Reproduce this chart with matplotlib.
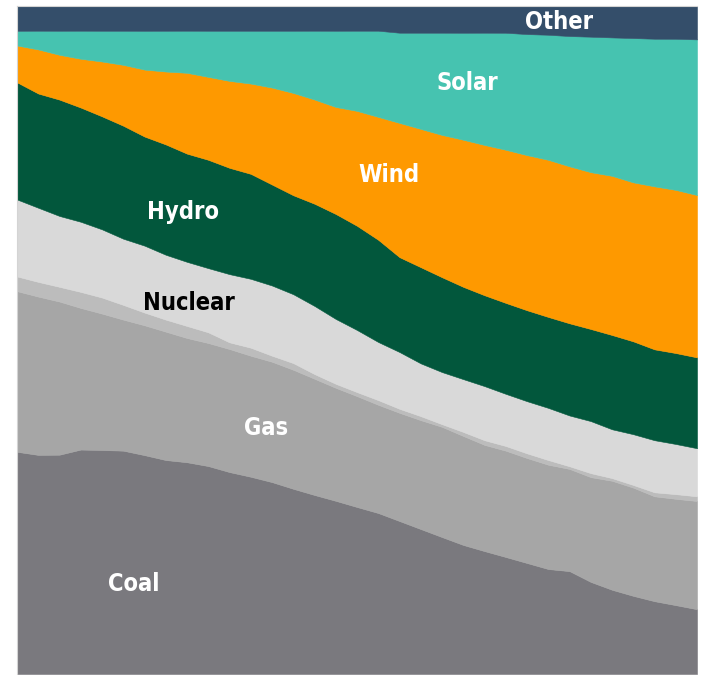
import numpy as np
import matplotlib.pyplot as plt

# Andel av kraftproduksjon (%), ett punkt per år
years = list(range(1990, 2023))

coal = [33.2, 32.8, 32.8, 33.6, 33.5, 33.4, 32.7, 32.0, 31.7, 31.1, 30.2,
        29.5, 28.7, 27.7, 26.8, 25.9, 25.0, 24.1, 22.9, 21.7, 20.5, 19.3,
        18.4, 17.5, 16.6, 15.7, 15.4, 13.8, 12.6, 11.7, 10.9, 10.3, 9.7]
gas = [24.0, 23.7, 22.9, 21.2, 20.4, 19.6, 19.4, 19.2, 18.6, 18.4, 18.4,
       18.1, 18.0, 17.8, 17.4, 16.9, 16.6, 16.2, 16.2, 16.3, 16.5, 16.3,
       15.9, 15.9, 15.7, 15.6, 15.3, 15.7, 16.3, 16.2, 15.7, 15.9, 16.2]
oil = [2.2, 2.2, 2.2, 2.4, 2.4, 2.2, 1.9, 1.8, 1.8, 1.6, 1.0,
       1.2, 0.9, 1.0, 0.7, 0.6, 0.6, 0.7, 0.6, 0.6, 0.4, 0.6,
       0.7, 0.7, 0.7, 0.7, 0.4, 0.6, 0.4, 0.4, 0.6, 0.7, 0.7]
nuclear = [11.5, 11.1, 10.6, 10.5, 10.2, 9.9, 10.0, 9.7, 9.6, 9.6, 10.2,
           10.3, 10.5, 10.3, 10.2, 9.7, 9.3, 8.7, 8.5, 7.9, 7.8, 7.9,
           8.1, 7.8, 7.8, 7.8, 7.6, 7.8, 7.3, 7.6, 7.8, 7.5, 7.2]
hydro = [17.5, 17.1, 17.4, 17.1, 16.9, 16.9, 16.3, 16.5, 16.2, 16.2, 15.9,
         15.7, 15.1, 14.8, 15.3, 15.7, 15.6, 15.3, 14.2, 14.4, 14.2, 13.8,
         13.6, 13.6, 13.6, 13.6, 13.8, 13.8, 14.1, 13.9, 13.6, 13.6, 13.6]
wind = [5.5, 6.6, 6.7, 7.3, 8.2, 9.1, 10.0, 10.9, 12.1, 12.4, 13.0,
        13.5, 14.5, 15.3, 15.6, 16.0, 17.2, 18.4, 20.1, 20.7, 21.3, 22.0,
        22.5, 22.9, 23.2, 23.5, 23.5, 23.5, 23.8, 23.8, 24.4, 24.4, 24.3]
solar = [2.2, 2.8, 3.6, 4.2, 4.6, 5.1, 5.8, 6.1, 6.3, 6.9, 7.5,
         7.9, 8.5, 9.3, 10.3, 11.4, 12.0, 12.9, 13.5, 14.4, 15.3, 16.0,
         16.8, 17.5, 18.1, 18.7, 19.5, 20.3, 20.7, 21.6, 22.1, 22.6, 23.3]
other = [3.7, 3.7, 3.7, 3.7, 3.7, 3.7, 3.7, 3.7, 3.7, 3.7, 3.7,
         3.7, 3.7, 3.7, 3.7, 3.7, 3.7, 3.7, 4.0, 4.0, 4.0, 4.0,
         4.0, 4.0, 4.2, 4.3, 4.5, 4.6, 4.7, 4.8, 4.9, 4.9, 5.0]

names = ["Coal", "Gas", "Oil", "Nuclear", "Hydro", "Wind", "Solar", "Other"]
colors = ["#7a797e", "#a6a6a6", "#bcbcbc", "#d9d9d9",
          "#02573c", "#fe9900", "#46c3b0", "#344e6a"]

data = np.array([coal, gas, oil, nuclear, hydro, wind, solar, other])
data = data / data.sum(axis=0) * 100  # skaler til 100 %

fig = plt.figure(figsize=(7.04, 6.75), dpi=100)
ax = fig.add_axes([17 / 704, 1 / 675, 680 / 704, 668 / 675])

polys = ax.stackplot(years, data, colors=colors, labels=names)
for p, c in zip(polys, colors):
    p.set_edgecolor(c)
    p.set_linewidth(0.4)

ax.set_xlim(years[0], years[-1])
ax.set_ylim(0, 100)
ax.set_xticks([])
ax.set_yticks([])
for s in ax.spines.values():
    s.set_color("#d4d4d4")
    s.set_linewidth(0.8)
ax.spines["bottom"].set_visible(False)
ax.spines["right"].set_visible(False)

# Etiketter direkte i flatene
labels = [
    ("Other", 2015.5, 97.6, "white"),
    ("Solar", 2011.2, 88.5, "white"),
    ("Wind", 2007.5, 74.7, "white"),
    ("Hydro", 1997.8, 69.2, "white"),
    ("Nuclear", 1998.1, 55.5, "black"),
    ("Gas", 2001.7, 36.8, "white"),
    ("Coal", 1995.5, 13.5, "white"),
]
for txt, x, y, c in labels:
    ax.text(x, y, txt, color=c, fontsize=17, fontweight="bold",
            family="DejaVu Sans", fontstretch="condensed",
            ha="center", va="center")

plt.savefig("out.png", dpi=100)
